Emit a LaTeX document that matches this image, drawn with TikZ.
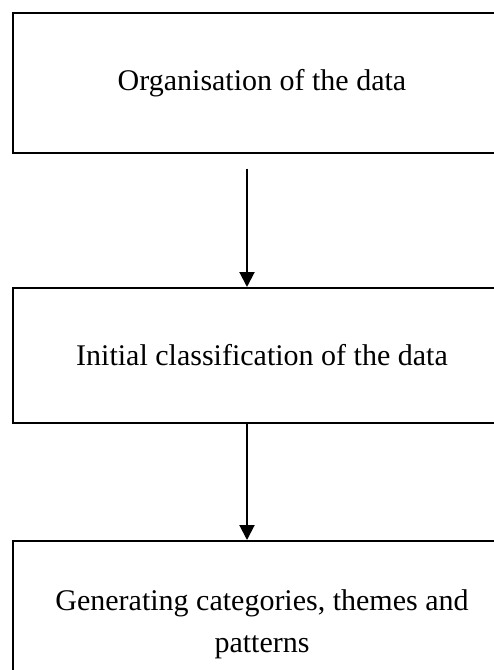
\documentclass[tikz,border=0pt]{standalone}
\usepackage{fontspec}
\setmainfont{Liberation Serif}
\usetikzlibrary{arrows.meta}
\begin{document}
\begin{tikzpicture}[x=1pt,y=-1pt,
  box/.style={draw=black,line width=2pt,rectangle,minimum width=498pt,align=center,
    font=\fontsize{30}{42}\selectfont,inner sep=0pt},
  arr/.style={line width=2pt,-{Triangle[length=15pt,width=15pt]}}]
\useasboundingbox (0,0) rectangle (494,670);
\clip (0,0) rectangle (494,670);
\fill[white] (0,0) rectangle (494,670);
\node[box,minimum height=140pt] (b1) at (262,82.7) {Organisation of the data};
\node[box,minimum height=135pt] (b2) at (262,355.5) {Initial classification of the data};
\node[box,minimum height=166pt] (b3) at (262,624) {Generating categories, themes and\\patterns};
\draw[arr] ([xshift=-15pt,yshift=-15pt]b1.south) -- ([xshift=-15pt]b2.north);
\draw[arr] ([xshift=-15pt]b2.south) -- ([xshift=-15pt]b3.north);
\end{tikzpicture}
\end{document}
